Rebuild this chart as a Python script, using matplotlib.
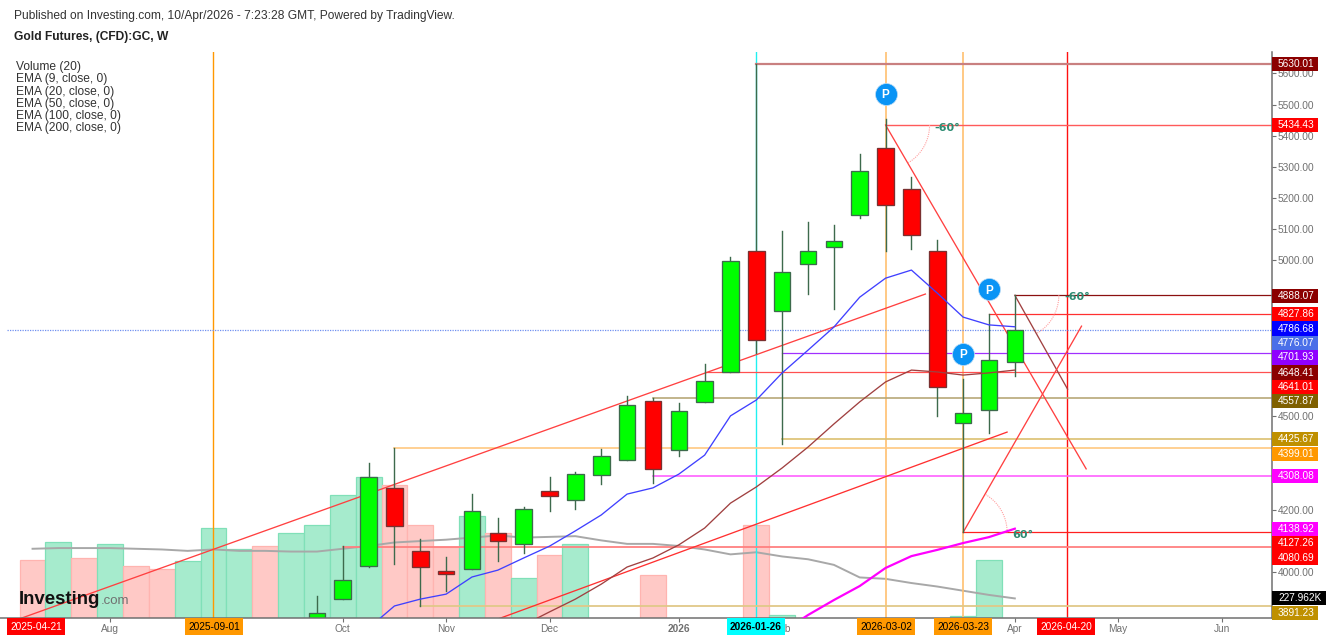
import numpy as np
import matplotlib
matplotlib.use('Agg')
import matplotlib.pyplot as plt
from matplotlib.patches import Rectangle

plt.rcParams['font.family'] = ['Liberation Sans', 'DejaVu Sans']

W, H = 1332, 640

#candles, x is weeks counted from 2025-09-01
candle_week = list(range(4, 32))
candle_open = [3830, 3913, 4019, 4270, 4067, 4003, 4010, 4125, 4090, 4260, 4231, 4311, 4359, 4549,
               4392, 4546, 4642, 5030, 4838, 4988, 5043, 5146, 5361, 5229, 5030, 4478, 4520, 4674]
candle_close = [3868, 3974, 4305, 4148, 4016, 3994, 4196, 4099, 4202, 4244, 4314, 4372, 4536, 4331,
                4517, 4613, 4998, 4744, 4963, 5030, 5062, 5287, 5178, 5081, 4594, 4510, 4680, 4776]
candle_high = [3923, 4083, 4350, 4399, 4106, 4048, 4250, 4173, 4209, 4305, 4321, 4395, 4565, 4558,
               4542, 4667, 5011, 5630, 5094, 5123, 5113, 5341, 5454, 5268, 5065, 4619, 4828, 4888]
candle_low = [3830, 3913, 4016, 4026, 3891, 3939, 4010, 4035, 4061, 4196, 4202, 4282, 4359, 4286,
              4372, 4546, 4642, 4703, 4411, 4892, 4844, 5136, 5030, 5036, 4501, 4127, 4446, 4629]

#volume in thousands
vol_week = [-7, -6, -5, -4, -3, -2, -1, 0, 1, 2, 3, 4, 5, 6, 7, 8, 9, 10, 11, 12, 13, 14, 17, 21, 22, 29, 30]
vol_value = [283, 309, 286, 306, 274, 270, 282, 329, 299, 303, 322, 333, 376, 402, 390, 333, 302, 346,
             322, 257, 290, 306, 261, 333, 204, 203, 283]
vol_up = [0, 1, 0, 1, 0, 0, 1, 1, 1, 0, 1, 1, 1, 1, 0, 0, 0, 1, 0, 1, 0, 1, 0, 0, 1, 1, 1]

vol_ma_week = list(range(-7, 32))
vol_ma = [299, 300, 300, 300, 299, 298, 296, 298, 296, 296, 295, 295, 299, 303, 308, 310, 312, 315, 318, 315,
          316, 317, 311, 306, 306, 303, 298, 291, 294, 288, 284, 276, 258, 256, 250, 245, 239, 233, 228]

#moving averages
ema9_week = list(range(6, 32))
ema9 = [3820, 3891, 3913, 3929, 3984, 4006, 4045, 4083, 4132, 4183, 4250, 4270, 4314, 4375, 4501, 4552,
        4639, 4712, 4786, 4882, 4943, 4969, 4895, 4818, 4793, 4787]
ema20_week = list(range(12, 32))
ema20 = [3830, 3872, 3913, 3961, 4016, 4045, 4087, 4141, 4221, 4273, 4334, 4401, 4475, 4546, 4610, 4648,
         4642, 4632, 4639, 4648]
ema50_week = list(range(22, 32))
ema50 = [3807, 3862, 3910, 3955, 4013, 4051, 4071, 4093, 4112, 4139]

#horizontal levels: price, first week, colour, width
level_price = [5630.01, 5434.43, 4888.07, 4827.86, 4701.93, 4641.01, 4557.87, 4425.67, 4399.01, 4308.08,
               4127.26, 4080.69, 3891.23]
level_start = [21, 26, 31, 30, 22, 19, 17, 22, 7, 17, 29, 5, 8]
level_color = ['#c98080', '#ff5a5a', '#8b1010', '#ff3030', '#a030ff', '#ff5050', '#b8a878', '#dcc070',
               '#ffc880', '#ff60ff', '#ff2020', '#ff8080', '#e0c888']
level_width = [1.6, 1.0, 0.9, 0.9, 0.9, 0.9, 1.2, 1.2, 1.2, 1.2, 0.9, 1.3, 1.3]

#vertical date lines
vline_week = [0, 21, 26, 29, 33]
vline_color = ['#ff9800', '#20f0f0', '#ffc070', '#ffc070', '#ff1010']
vline_width = [1.0, 1.0, 1.2, 1.2, 1.0]

#sloped lines: x0, price0, x1, price1, colour
trend_x0 = [-8, 11, 26, 31, 29]
trend_p0 = [3835, 3849, 5434.43, 4888.07, 4127.26]
trend_x1 = [27.54, 30.7, 33.76, 33.04, 33.58]
trend_p1 = [4892, 4449, 4331, 4587, 4789]
trend_color = ['#ff4040', '#ff3030', '#ff4040', '#a04040', '#ff4040']

#angle arcs and their texts
arc_week = [26, 31, 29]
arc_price = [5434.43, 4888.07, 4127.26]
arc_text = ['-60°', '-60°', '60°']
arc_text_week = [27.9, 32.92, 30.9]
arc_text_price = [5425, 4883, 4118]

p_week = [26, 30, 29]
p_price = [5535, 4908, 4700]

ytick_values = [5600, 5500, 5400, 5300, 5200, 5100, 5000, 4500, 4200, 4000]
xtick_week = [-4, 5, 9, 13, 18, 22, 31, 35, 39]
xtick_names = ['Aug', 'Oct', 'Nov', 'Dec', '2026', 'Feb', 'Apr', 'May', 'Jun']

#price tags on the right
tag_text = ['5630.01', '5434.43', '4888.07', '4827.86', '4786.68', '4776.07', '4701.93', '4648.41', '4641.01',
            '4557.87', '4425.67', '4399.01', '4308.08', '4138.92', '4127.26', '4080.69', '227.962K', '3891.23']
tag_y = [64, 125, 296, 314, 328.5, 343, 357.5, 372.5, 387, 401, 439, 454, 476, 529, 543.5, 558, 598, 613]
tag_color = ['#8b0000', '#ff0000', '#8b0000', '#ff0000', '#0000ff', '#4a6fe8', '#8f00ff', '#8b0000', '#ff0000',
             '#7f6000', '#bf9000', '#ff9800', '#ff00ff', '#ff00ff', '#ff0000', '#ff0000', '#000000', '#bf9000']

#date tags on the bottom
date_text = ['2025-04-21', '2025-09-01', '2026-01-26', '2026-03-02', '2026-03-23', '2026-04-20']
date_left = [7, 185, 727, 857, 934, 1037]
date_color = ['#ff0000', '#ff9800', '#00ffff', '#ff9800', '#ff9800', '#ff0000']
date_text_color = ['white', 'black', 'black', 'black', 'black', 'white']

legend_lines = ['Volume (20)', 'EMA (9, close, 0)', 'EMA (20, close, 0)', 'EMA (50, close, 0)',
                'EMA (100, close, 0)', 'EMA (200, close, 0)']
legend_y = [67, 79, 91.5, 104, 116.5, 128.5]


def fx(x):
    return x / W


def fy(y):
    return 1 - y / H


fig = plt.figure(figsize=(W / 100, H / 100), dpi=100, facecolor='white')

#axes box in pixels: 0..1272 across, 52..618 down
ax2 = fig.add_axes([0, fy(618), fx(1272), fy(52) - fy(618)])
ax = fig.add_axes([0, fy(618), fx(1272), fy(52) - fy(618)])
ax.set_zorder(2)
ax.patch.set_visible(False)

ax.set_xlim(-8.259, 40.949)
ax.set_ylim(3852.4, 5668.8)
ax2.set_xlim(-8.259, 40.949)
ax2.set_ylim(200, 1009.4)
ax2.axis('off')

#volume bars and their average
vol_face = ['#a6ebcd' if u else '#ffc9c6' for u in vol_up]
vol_edge = ['#80e0b8' if u else '#ffb4b0' for u in vol_up]
ax2.bar(vol_week, np.array(vol_value) - 200, bottom=200, width=1.0, color=vol_face, edgecolor=vol_edge, linewidth=0.9)
ax2.plot(vol_ma_week, vol_ma, color='#a8a8a8', lw=1.4)

#drawings go behind the candles
for w, c, lw in zip(vline_week, vline_color, vline_width):
    ax.axvline(w, color=c, lw=lw, zorder=1.5)
for p, s, c, lw in zip(level_price, level_start, level_color, level_width):
    ax.plot([s, 41], [p, p], color=c, lw=lw, zorder=1.5)
ax.plot([-8, 41], [4776.07, 4776.07], color='#7090f0', lw=0.9, ls=(0, (1, 1)), zorder=1.5)
for x0, p0, x1, p1, c in zip(trend_x0, trend_p0, trend_x1, trend_p1, trend_color):
    ax.plot([x0, x1], [p0, p1], color=c, lw=0.95, zorder=1.5)

#60 degree arcs, radius 44 px, converted into chart units
for w, p, t in zip(arc_week, arc_price, arc_text):
    a = np.radians(np.linspace(0, 60, 30))
    sign = 1 if t == '60°' else -1
    ax.plot(w + 44 * np.cos(a) / 25.85, p + sign * 44 * np.sin(a) / 0.3116, color='#ffa0a0', lw=0.8,
            ls=(0, (1, 1)), zorder=1.6)
for w, p, t in zip(arc_text_week, arc_text_price, arc_text):
    ax.text(w, p, t, color='#2e8b72', fontsize=8, fontweight='bold', family='DejaVu Sans', ha='left', va='center', zorder=5)

#candles
for w, o, c, h, l in zip(candle_week, candle_open, candle_close, candle_high, candle_low):
    ax.plot([w, w], [l, h], color='#3d6a4c', lw=1.0, zorder=2)
    face = '#00ff00' if c > o else '#ff0000'
    edge = '#3d6a4c' if c > o else '#7a3030'
    ax.bar(w, abs(c - o), bottom=min(o, c), width=0.64, color=face, edgecolor=edge, linewidth=0.95, zorder=2.5)

ax.plot(ema9_week, ema9, color='#4040ff', lw=0.95, zorder=3)
ax.plot(ema20_week, ema20, color='#a04040', lw=0.95, zorder=3)
ax.plot(ema50_week, ema50, color='#ff00ff', lw=1.6, zorder=3)

#P markers
ax.scatter(p_week, p_price, s=250, color='#0a94f5', edgecolor='#bcdcf5', linewidth=0.5, zorder=4)
for w, p in zip(p_week, p_price):
    ax.text(w, p, 'P', color='white', fontsize=8.5, fontweight='bold', ha='center', va='center_baseline', zorder=5)

#axis look
for side in ['top', 'left']:
    ax.spines[side].set_visible(False)
for side in ['right', 'bottom']:
    ax.spines[side].set_color('#707070')
    ax.spines[side].set_linewidth(1.1)
ax.yaxis.tick_right()
ax.set_yticks(ytick_values)
ax.set_yticklabels(['%.2f' % v for v in ytick_values])
ax.set_xticks(xtick_week + vline_week)
ax.set_xticklabels(xtick_names + [''] * len(vline_week))
ax.tick_params(axis='y', colors='#707070', labelsize=7.3, length=3, pad=1)
ax.tick_params(axis='x', colors='#707070', labelsize=7.3, length=3, pad=1.5)
ax.get_xticklabels()[xtick_names.index('2026')].set_fontweight('bold')

#right hand tags
for t, y, c in zip(tag_text, tag_y, tag_color):
    right = 1326 if t.endswith('K') else 1318
    fig.add_artist(Rectangle((fx(1272), fy(y + 7.3)), fx(right - 1272), 14.6 / H, transform=fig.transFigure,
                             facecolor=c, edgecolor='none', zorder=6))
    fig.text(fx(1278), fy(y), t, color='white', fontsize=7.3, va='center', ha='left', zorder=7)

#bottom date tags
for t, x, c, tc in zip(date_text, date_left, date_color, date_text_color):
    fig.add_artist(Rectangle((fx(x), fy(635)), fx(58), 17 / H, transform=fig.transFigure, facecolor=c,
                             edgecolor='none', zorder=6))
    fig.text(fx(x + 29), fy(627.5), t, color=tc, fontsize=7.3, va='center', ha='center', zorder=7,
             fontweight='bold' if c == '#00ffff' else 'normal')

#header text
fig.text(fx(14), fy(16), 'Published on Investing.com, 10/Apr/2026 - 7:23:28 GMT, Powered by TradingView.',
         fontsize=8.64, color='#333333', va='center')
fig.text(fx(14), fy(37), 'Gold Futures, (CFD):GC, W', fontsize=8.64, fontweight='bold', color='#222222', va='center')
for t, y in zip(legend_lines, legend_y):
    fig.text(fx(16), fy(y), t, fontsize=8.64, color='#333333', va='center', zorder=7)

#logo
fig.text(fx(19), fy(604), 'Investing', fontsize=13.4, fontweight='bold', color='#111111', va='baseline', zorder=7)
fig.text(fx(100.5), fy(604), '.com', fontsize=9.5, color='#707070', va='baseline', zorder=7)

fig.savefig('out.png', dpi=100)
